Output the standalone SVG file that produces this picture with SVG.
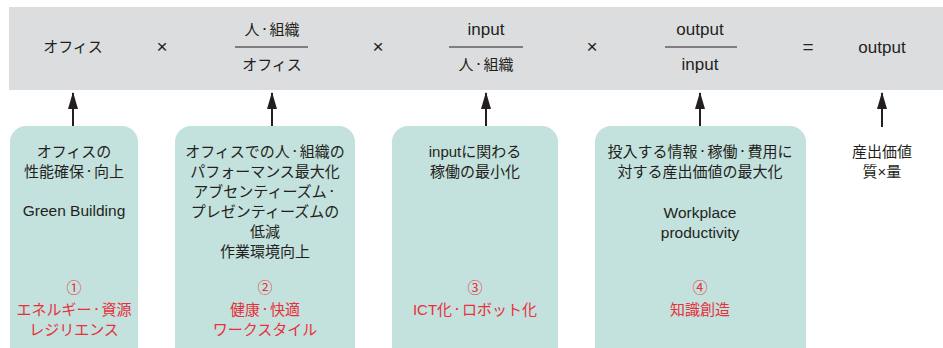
<svg xmlns="http://www.w3.org/2000/svg" width="943" height="348" viewBox="0 0 943 348">
<defs>
<style>
text{font-family:"Liberation Sans","Noto Sans CJK JP",sans-serif;font-size:15px;fill:#231f20;text-anchor:middle}
.r{fill:#e8303a}
.l{font-size:15.5px}
.b{font-size:17px}
.op{font-size:19px}
.d{font-size:10px}
.box{fill:#c3e1dd}
.frac{stroke:#231f20;stroke-width:1.2}
.conn{stroke:#231f20;stroke-width:2}
</style>
<marker id="ah" viewBox="0 0 17 10" refX="16" refY="5" markerWidth="17" markerHeight="10" markerUnits="userSpaceOnUse" orient="auto">
<path d="M0,0 L17,5 L0,10 Z" fill="#231f20"/>
</marker>
</defs>
<g id="band">
<rect x="9" y="7" width="934" height="83" fill="#dcdddf"/>
<text x="73" y="52">オフィス</text>
<text class="op" x="162" y="53">×</text>
<text x="272" y="35">人<tspan class="d" dy="-2">・</tspan><tspan dy="2">組織</tspan></text>
<line class="frac" x1="235" y1="47" x2="308" y2="47"/>
<text x="272" y="70">オフィス</text>
<text class="op" x="378" y="53">×</text>
<text class="b" x="486" y="35">input</text>
<line class="frac" x1="449" y1="47" x2="523" y2="47"/>
<text x="486" y="70">人<tspan class="d" dy="-2">・</tspan><tspan dy="2">組織</tspan></text>
<text class="op" x="592" y="53">×</text>
<text class="b" x="700" y="35">output</text>
<line class="frac" x1="665" y1="47" x2="737" y2="47"/>
<text class="b" x="700" y="70">input</text>
<text class="op" x="808" y="53">=</text>
<text class="b" x="882" y="53">output</text>
</g>
<g id="connectors">
<line class="conn" x1="73" y1="127" x2="73" y2="93" marker-end="url(#ah)"/>
<line class="conn" x1="272" y1="127" x2="272" y2="93" marker-end="url(#ah)"/>
<line class="conn" x1="486" y1="127" x2="486" y2="93" marker-end="url(#ah)"/>
<line class="conn" x1="700" y1="127" x2="700" y2="93" marker-end="url(#ah)"/>
<line class="conn" x1="882" y1="127" x2="882" y2="93" marker-end="url(#ah)"/>
</g>
<g id="node1">
<rect class="box" x="10" y="126" width="128" height="240" rx="16"/>
<text x="74" y="157">オフィスの</text>
<text x="74" y="177">性能確保<tspan class="d" dy="-2">・</tspan><tspan dy="2">向上</tspan></text>
<text class="l" x="74" y="216">Green Building</text>
<text class="r" x="74" y="293">①</text>
<text class="r" x="74" y="315">エネルギー<tspan class="d" dy="-2">・</tspan><tspan dy="2">資源</tspan></text>
<text class="r" x="74" y="335">レジリエンス</text>
</g>
<g id="node2">
<rect class="box" x="175" y="126" width="180" height="240" rx="16"/>
<text x="265" y="157">オフィスでの人<tspan class="d" dy="-2">・</tspan><tspan dy="2">組織の</tspan></text>
<text x="265" y="177">パフォーマンス最大化</text>
<text x="265" y="197">アブセンティーズム<tspan class="d" dy="-2">・</tspan></text>
<text x="265" y="217">プレゼンティーズムの</text>
<text x="265" y="237">低減</text>
<text x="265" y="257">作業環境向上</text>
<text class="r" x="265" y="293">②</text>
<text class="r" x="265" y="315">健康<tspan class="d" dy="-2">・</tspan><tspan dy="2">快適</tspan></text>
<text class="r" x="265" y="335">ワークスタイル</text>
</g>
<g id="node3">
<rect class="box" x="392" y="126" width="166" height="240" rx="16"/>
<text x="475" y="157">inputに関わる</text>
<text x="475" y="177">稼働の最小化</text>
<text class="r" x="475" y="293">③</text>
<text class="r" x="475" y="315">ICT化<tspan class="d" dy="-2">・</tspan><tspan dy="2">ロボット化</tspan></text>
</g>
<g id="node4">
<rect class="box" x="595" y="126" width="211" height="240" rx="16"/>
<text x="700" y="157">投入する情報<tspan class="d" dy="-2">・</tspan><tspan dy="2">稼働</tspan><tspan class="d" dy="-2">・</tspan><tspan dy="2">費用に</tspan></text>
<text x="700" y="177">対する産出価値の最大化</text>
<text class="l" x="700" y="218">Workplace</text>
<text class="l" x="700" y="238">productivity</text>
<text class="r" x="700" y="293">④</text>
<text class="r" x="700" y="315">知識創造</text>
</g>
<g id="node5">
<text x="882" y="157">産出価値</text>
<text x="882" y="177">質×量</text>
</g>
</svg>
